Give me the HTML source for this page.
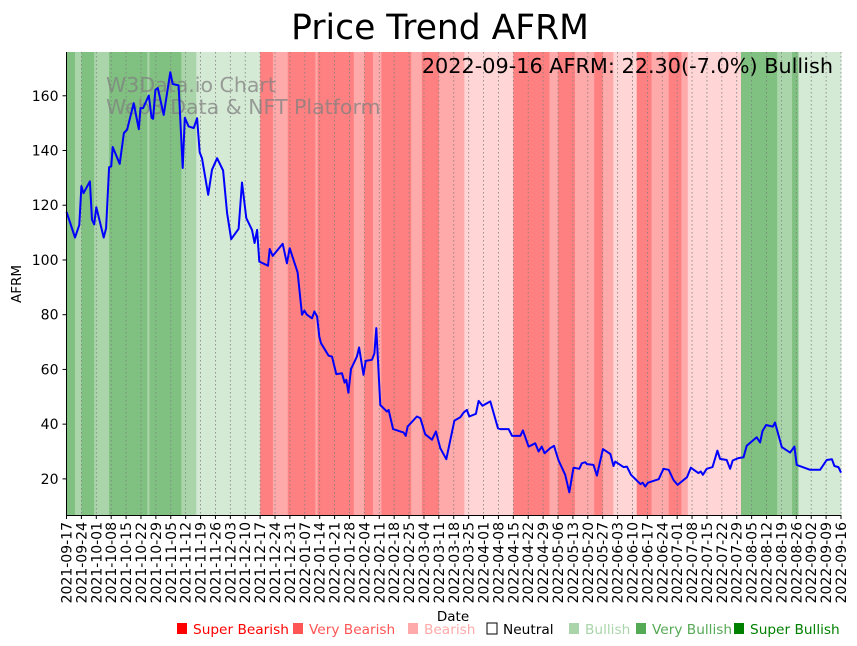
<!DOCTYPE html>
<html><head><meta charset="utf-8"><style>
body{margin:0;background:#fff;}
svg{display:block;font-family:"DejaVu Sans","Liberation Sans",sans-serif;}
</style></head><body>
<svg id="chart" width="857" height="646" viewBox="0 0 857 646" xmlns="http://www.w3.org/2000/svg">
<rect width="857" height="646" fill="#fff"/>
<g id="bands"></g>
<g id="grid"></g>
<text x="106" y="92" font-size="20.5" fill="#808080" fill-opacity="0.75">W3Data.io Chart</text>
<text x="106" y="114" font-size="20.5" fill="#808080" fill-opacity="0.75">Web3 Data &amp; NFT Platform</text>
<path id="line" fill="none" stroke="#0000ff" stroke-width="2" stroke-linejoin="round"/>
<line x1="66.5" y1="52" x2="66.5" y2="515" stroke="#000"/>
<line x1="66" y1="515.5" x2="841" y2="515.5" stroke="#000"/>
<g id="yticks"></g>
<g id="xticks"></g>
<text x="440" y="39" font-size="34.5" text-anchor="middle">Price Trend AFRM</text>
<text x="833" y="73" font-size="20.8" text-anchor="end">2022-09-16 AFRM: 22.30(-7.0%) Bullish</text>
<text transform="translate(21,284) rotate(-90)" font-size="13.5" text-anchor="middle">AFRM</text>
<text x="453" y="621" font-size="13.5" text-anchor="middle">Date</text>
<g id="legend" font-size="13.7"></g>
</svg>
<script>
const startDate = Date.UTC(2021,8,17);
const tickCount = 53;
const yTicks = [20,40,60,80,100,120,140,160];
const bandStarts = [0,4,7,13,20,38,39,54,61,91,97,104,117,118,135,140,144,148,162,167,175,187,210,227,231,239,248,252,257,268,275,283,289,292,317,334,341,344];
const bandLevels = [3,2,3,2,3,2,3,2,1,-3,-2,-3,-2,-3,-2,-3,-2,-3,-2,-3,-2,-1,-3,-2,-3,-2,-3,-2,-1,-3,-2,-3,-2,-1,3,2,3,1];
const priceDays = [0,4,6,7,8,11,12,13,14,17.5,18.6,20,21,21.7,25,27,28.5,31.6,34,34.8,36,38.7,40,40.7,41.8,42.9,45.7,48.8,49.9,52.7,54.6,55.6,57.4,59.8,61.4,62.6,63.7,66.6,68.4,70.8,73.6,75.5,77.4,80.9,82.5,84.5,87.2,88.4,89.6,90.6,94.7,95.5,96.9,101.6,103.6,104.9,108.6,110.7,111.8,113,115.4,116.5,117.8,118.8,119.6,123.2,124.8,126.8,129.5,130.7,131.5,132.5,133.7,136.5,137.5,139.6,140.6,143.6,144.7,145.6,147.5,150.6,151.4,153.5,158.5,159.4,160.3,164.7,166.3,168.6,171.8,173.6,175.7,178.5,182.3,185.1,186.6,188.2,189.3,192.4,193.7,195.5,199.2,202.8,203.9,207.8,209.4,213.3,214.5,217.2,220.3,221.9,223.4,224.7,227.3,229.1,231.2,234.4,236.3,238.3,241,242.2,243.8,244.6,247.7,249.3,252.1,255.6,257.1,257.9,261.8,263.4,265.3,269.7,270.8,272,273.3,278.3,280.6,283,285.3,287.2,291.6,293.4,297,298.1,299.1,300.9,303.6,305.9,307.2,310.3,311.9,313.1,315.8,318.2,319.7,324.4,326,327.1,328.8,332,333,336.2,340.1,342.1,343.2,349.5,354.2,357.3,359.7,360.9,362.8,364];
const priceValues = [117.6,108.2,112.8,127,124.4,128.7,114.7,113,119.3,108.2,111.6,133.9,134.2,141.3,135.1,146.4,147.6,157.3,147.8,155.5,155.5,160.1,152,151.6,162.2,162.8,153,168.6,164.3,163.8,133.6,152,148.8,148.2,151.8,139.3,137.2,123.8,133,137.2,132.7,117.1,107.6,111.4,128.3,115.3,111,106.2,111,99.4,97.9,104,101.5,105.9,98.8,104.3,95.5,80,81.5,80,78.7,81.2,79.3,72,69.6,65,64.7,58.3,58.6,55.2,56.2,51.5,60.1,64.7,68,58,63.1,63.5,65.9,75.1,47,44.6,45.2,38.2,36.9,35.7,39.1,42.8,42.2,36.3,34.3,37.3,31.2,27.2,41.3,42.5,44.2,45.2,42.8,43.8,48.5,46.7,48.3,38.5,38.2,38.2,35.7,35.7,37.7,31.8,33,30,31.8,29.4,31.2,32.1,26.9,21.5,15.1,24.1,23.7,25.7,26.1,25.4,25.1,21.2,30.9,29.1,24.7,26.3,24.3,24.5,21.5,18.1,18.6,17.2,18.6,19.9,23.7,23.3,19.6,17.8,20.6,24.1,22.1,22.7,21.5,23.7,24.3,30.3,27.3,26.9,23.7,26.7,27.6,27.9,32.1,35.2,33.3,37.5,39.7,39.1,40.6,31.6,29.6,31.8,25.1,23.3,23.3,26.9,27.2,24.7,24.3,22.3];
const legendLabels = ["Super Bearish","Very Bearish","Bearish","Neutral","Bullish","Very Bullish","Super Bullish"];

const NS="http://www.w3.org/2000/svg";
const X0=66.5,X1=841,DAYS=364,Y0=515,Y1=52,VMIN=6.8,VMAX=176;
const xs=d=>X0+(X1-X0)*d/DAYS;
const ys=v=>Y0-(Y0-Y1)*(v-VMIN)/(VMAX-VMIN);
const bandColor={"3":"#80c080","2":"#aad5aa","1":"#d5ead5","-1":"#ffd5d5","-2":"#ffaaaa","-3":"#ff8080"};
function mk(tag,attrs,parent){const e=document.createElementNS(NS,tag);for(const k in attrs)e.setAttribute(k,attrs[k]);parent.appendChild(e);return e;}

const bg=document.getElementById('bands');
for(let i=0;i<bandStarts.length;i++){
  const s=bandStarts[i],e=i+1<bandStarts.length?bandStarts[i+1]:DAYS;
  const r=mk('rect',{x:xs(s),y:Y1,width:xs(e)-xs(s)+0.3,height:Y0-Y1,fill:bandColor[bandLevels[i]]},bg);
  
  
}
const grid=document.getElementById('grid'),xt=document.getElementById('xticks');
for(let i=0;i<tickCount;i++){
  const d=i*7,x=xs(d);
  const g=mk('line',{x1:x,y1:Y1,x2:x,y2:Y0,stroke:'#808080','stroke-width':0.8,'stroke-dasharray':'1.5,2.5'},grid);
  
  
  const t=mk('line',{x1:x,y1:Y0,x2:x,y2:Y0+4,stroke:'#000'},xt);
  
  
  const dt=new Date(startDate+d*86400000);
  const lab=dt.toISOString().slice(0,10);
  const tx=mk('text',{transform:`translate(${x+5},${Y0+7}) rotate(-90)`,'font-size':14,'text-anchor':'end'},xt);
  tx.textContent=lab;
  
  
}
const yt=document.getElementById('yticks');
yTicks.forEach(v=>{
  const y=ys(v);
  const l=mk('line',{x1:X0-4,y1:y,x2:X0,y2:y,stroke:'#000'},yt);
  
  
  const t=mk('text',{x:X0-8,y:y+5,'font-size':14,'text-anchor':'end'},yt);
  t.textContent=v;
  
  
});
document.getElementById('line').setAttribute('d',priceDays.map((d,i)=>(i?'L':'M')+xs(d).toFixed(1)+','+ys(priceValues[i]).toFixed(1)).join(''));

const lg=document.getElementById('legend');
const legX=[176,292,407,486,568,635,733];
const legSw=['#ff0000','#ff5555','#ffaaaa','none','#aad5aa','#55aa55','#008000'];
const legTx=['#ff0000','#ff5555','#ffaaaa','#000000','#aad5aa','#55aa55','#008000'];
legendLabels.forEach((lab,i)=>{
  const s=mk('rect',{x:legX[i]+1,y:623,width:10,height:11,fill:legSw[i],stroke:legSw[i]==='none'?'#000':'none'},lg);
  
  
  const t=mk('text',{x:legX[i]+17,y:634,fill:legTx[i]},lg);
  t.textContent=lab;
  
  
});
</script>
</body></html>
